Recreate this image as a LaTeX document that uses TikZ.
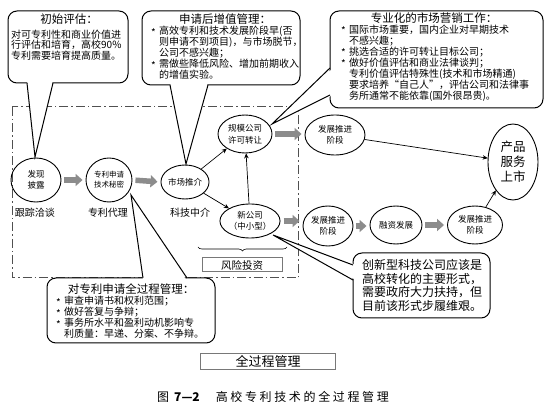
\documentclass[tikz,border=0pt]{standalone}
\usepackage{fontspec}
\setmainfont{Noto Sans CJK SC}
\usetikzlibrary{shapes.geometric,arrows.meta,decorations.pathreplacing}
\definecolor{arrgray}{RGB}{140,140,140}
\definecolor{dashgray}{RGB}{80,80,80}
\definecolor{boxgray}{RGB}{120,120,120}
\newcommand{\bul}{\makebox[8pt][l]{\raisebox{-1.5pt}{*}}}
\newcommand{\ind}{\hspace*{8pt}}
\newcommand{\ttl}[2]{\makebox[#1][c]{\fontsize{11.5}{12}\selectfont #2}}
\tikzset{
  stage/.style={ellipse, draw, line width=0.9pt, inner sep=0pt, align=center,
    font=\fontsize{8.5}{10.5}\selectfont},
  flowarrow/.style={draw=arrgray, line width=5.5pt, -{Triangle[length=7pt,width=12pt]},
    shorten <=3pt, shorten >=3pt},
  linkarrow/.style={draw, line width=0.7pt, -{Stealth[length=5pt,width=4.5pt]}},
  bubble/.style={draw, fill=white, line width=1pt, rounded corners=9pt},
  tailline/.style={line width=1pt},
  ctext/.style={anchor=north west, inner sep=0pt, align=left,
    font=\fontsize{10}{11}\selectfont},
  steplabel/.style={font=\fontsize{10}{12}\selectfont},
  framebox/.style={draw=boxgray, line width=1pt, inner sep=0pt},
  zone/.style={draw=dashgray, line width=1pt, dash pattern=on 9pt off 3pt on 1.5pt off 3pt},
}
\begin{document}
\begin{tikzpicture}[x=1pt,y=-1pt]
\useasboundingbox[fill=white] (0,0) rectangle (550,409);
% dash-dot zone
\draw[zone] (12,107) rectangle (298,278);

% ---- callout 1
\draw[bubble] (8,11) rectangle (128,83);
\fill[white] (27,80) -- (53,80) -- (35,157) -- cycle;
\draw[tailline] (27,83) -- (35,157) -- (53,83);
\node[ctext, text width=116pt, font=\fontsize{10}{10.5}\selectfont] (ca) at (11,14)
  {\ttl{116pt}{初始评估：}\\[4pt]
   对可专利性和商业价值进\\行评估和培育，高校90\%\\专利需要培育提高质量。};

% ---- callout 2
\draw[bubble] (142,11) rectangle (300,85);
\fill[white] (170,82) -- (208,82) -- (186,164) -- cycle;
\draw[tailline] (170,85) -- (186,164) -- (208,85);
\node[ctext, text width=148pt] (cb) at (151,13.5)
  {\ttl{148pt}{申请后增值管理：}\\[0.5pt]
   \bul 高效专利和技术发展阶段早(否\\
   \ind 则申请不到项目)，与市场脱节，\\
   \ind 公司不感兴趣；\\
   \bul 需做些降低风险、增加前期收入\\
   \ind 的增值实验。};

% ---- callout 3
\draw[bubble] (330,11) rectangle (543,108);
\fill[white] (333,68) -- (333,95) -- (272,124) -- cycle;
\draw[tailline] (330,68) -- (272,124) -- (330,95);
\node[ctext, text width=186pt] (cc) at (341,12.5)
  {\ttl{186pt}{专业化的市场营销工作：}\\[0pt]
   \bul 国际市场重要，国内企业对早期技术\\
   \ind 不感兴趣；\\
   \bul 挑选合适的许可转让目标公司；\\
   \bul 做好价值评估和商业法律谈判；\\
   \ind 专利价值评估特殊性(技术和市场精通)\\
   \ind 要求培养“自己人”，评估公司和法律事\\
   \ind 务所通常不能依靠(国外很昂贵)。};

% ---- callout 4
\draw[bubble] (47,278) rectangle (215,343);
\fill[white] (143,281) -- (187,281) -- (131,195) -- cycle;
\draw[tailline] (143,278) -- (131,195) -- (187,278);
\node[ctext, text width=150pt] (cd) at (56,284)
  {\ttl{150pt}{对专利申请全过程管理：}\\[0pt]
   \bul 审查申请书和权利范围；\\
   \bul 做好答复与争辩；\\
   \bul 事务所水平和盈利动机影响专\\
   \ind 利质量：早递、分案、不争辩。};

% ---- callout 5
\draw[bubble] (353,253) rectangle (490,318);
\fill[white] (356,265) -- (356,280) -- (273,235) -- cycle;
\draw[tailline] (353,265) -- (273,235) -- (353,280);
\node[ctext, text width=122pt, font=\fontsize{12}{13.8}\selectfont] (ce) at (362,259)
  {创新型科技公司应该是\\高校转化的主要形式，\\需要政府大力扶持，但\\目前该形式步履维艰。};

% ---- stages
\node[stage, minimum width=50pt, minimum height=44pt] (fx) at (36,180) {发现\\披露};
\node[stage, minimum width=46pt, minimum height=44pt, font=\fontsize{7.5}{10}\selectfont] (zl) at (109,180) {专利申请\\技术秘密};
\node[stage, minimum width=46pt, minimum height=34pt] (sc) at (185,182) {市场推介};
\node[stage, minimum width=54pt, minimum height=38pt, font=\fontsize{8.5}{12}\selectfont] (gm) at (245,134) {规模公司\\许可转让};
\node[stage, minimum width=54pt, minimum height=34pt] (xg) at (250,221) {新公司\\（中小型）};
\node[stage, minimum width=60pt, minimum height=40pt] (d1) at (335,135) {发展推进\\阶段};
\node[stage, minimum width=50pt, minimum height=40pt] (d2) at (328,226) {发展推进\\阶段};
\node[stage, minimum width=52pt, minimum height=38pt] (rz) at (396,225) {融资发展};
\node[stage, minimum width=55pt, minimum height=38pt] (d3) at (475,225) {发展推进\\阶段};
\node[stage, minimum width=50pt, minimum height=76pt, font=\fontsize{12.5}{15}\selectfont] (cp) at (513,162) {产品\\服务\\上市};

% labels under stages
\node[steplabel] (l1) at (35,213) {跟踪洽谈};
\node[steplabel] (l2) at (108,213) {专利代理};
\node[steplabel] (l3) at (190,213) {科技中介};

% ---- flow arrows
\draw[flowarrow] (fx.east) -- (zl.west);
\draw[flowarrow] (zl.east) -- (sc.west);
\draw[flowarrow] (gm.east) -- (gm.east -| d1.west);
\draw[flowarrow] (xg.east) -- (xg.east -| d2.west);
\draw[flowarrow] (d2.east) -- (d2.east -| rz.west);
\draw[flowarrow] (rz.east) -- (d3.west);

% ---- link arrows
\draw[linkarrow] (sc) -- (gm);
\draw[linkarrow] (sc) -- (xg);
\draw[linkarrow] (xg) -- (gm);
\draw[linkarrow] (d1) -- (cp);
\draw[linkarrow] (d3) -- (cp);

% ---- venture capital brace
\draw[line width=0.6pt, decorate, decoration={brace, amplitude=4pt, mirror}] (198,247) -- (287,247);
\node[framebox, minimum width=80pt, minimum height=14pt, font=\fontsize{10.5}{12}\selectfont] (vc) at (242,265) {风险投资};

% ---- whole process box
\node[framebox, line width=0.8pt, minimum width=135pt, minimum height=16pt, font=\fontsize{13}{14}\selectfont] (wp) at (268,361) {全过程管理};

% ---- caption
\node[anchor=west, inner sep=0pt, font=\fontsize{12}{14}\selectfont] (cap) at (157,397)
  {图\hspace{5pt}\textbf{7—2}\hspace{16pt}{\addfontfeature{LetterSpace=22}高校专利技术的全过程管理}};
\end{tikzpicture}
\end{document}
